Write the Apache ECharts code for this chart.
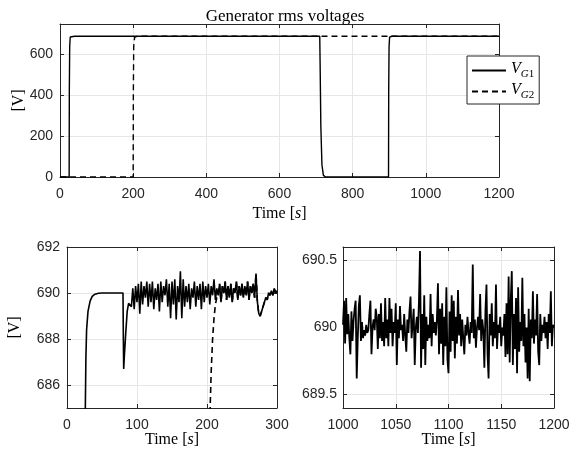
<!DOCTYPE html>
<html><head><meta charset="utf-8">
<script src="https://cdn.jsdelivr.net/npm/echarts@6/dist/echarts.min.js"></script>
<style>html,body{margin:0;padding:0;background:#fff}#c{width:580px;height:460px}</style>
</head><body><div id="c"></div>
<script>
// ---- data ----
const titleText = 'Generator rms voltages';
const seriesNames = ['V_G1', 'V_G2'];

// overview (whole run), [time s, voltage V]
const overviewVG1 = [[0,0],[25,0],[25.5,420],[26.5,640],[28,686],[32,689.5],[40,690],[710,690],[711,560],[713,250],[716,60],[720,8],[726,0],[898,0],[898.5,420],[899.5,640],[901,686],[907,690],[1200,690]];
const overviewVG2 = [[0,0],[200,0],[200.5,420],[201.5,640],[204,685],[210,689.4],[216,690],[1200,690]];

// start-up detail 0..300 s
const startVG1Smooth = [[0,0],[24.5,0],[25,650],[25.5,680],[26,684.5],[27,687.2],[28,688.4],[30,689.2],[33,689.65],[36,689.85],[40,689.95],[45,689.99],[50,690],[80,690],[80.5,688],[81,686.7],[82,687.3],[84,688.3],[86,689.2],[88,689.55],[90,689.6]];
const startNoiseT0 = 92, startNoiseStep = 2;
const startVG1Noise = [
 689.4, 690.2, 689.3, 690.3, 689.6, 690.4, 689.1, 690.5, 689.5, 690.3,
 689.8, 690.5, 689.4, 690.4, 689.6, 690.5, 689.3, 690.2, 689.7, 690.4,
 689.2, 690.5, 689.6, 690.3, 689.9, 690.6, 689.4, 690.4, 688.9, 690.5,
 689.5, 690.6, 688.85, 690.3, 689.6, 690.94, 688.9, 690.6, 689.4, 690.3,
 689.6, 690.4, 689.3, 690.2, 689.8, 690.5, 689.4, 690.3, 689.7, 690.4,
 689.3, 690.5, 689.6, 690.3, 689.8, 690.4, 689.5, 690.3, 689.9, 690.6,
 689.7, 690.2, 689.9, 690.4, 689.6, 690.3, 690.0, 690.5, 689.7, 690.3,
 689.8, 690.4, 689.6, 690.2, 690.0, 690.5, 689.7, 690.3, 689.9, 690.4,
 689.8, 690.3, 689.9, 690.5, 689.7, 690.3, 690.0, 690.4, 689.8, 690.85,
 689.6, 689.1, 689.0, 689.2, 689.4, 689.6, 689.8, 689.7, 690.0, 689.9,
 690.1, 689.9, 690.2, 690.0, 690.1
];
const startVG2Rise = [[0,0],[200,0],[200.5,420],[201.5,640],[204.5,685],[206,686.6],[208,688.0],[210,688.9],[212,689.5],[214,689.8]];

// end detail 1000..1200 s, 1 s step
const endT0 = 1000, endStep = 1;
const endVG1 = [
 690.02, 690.20, 689.88, 690.22, 689.95, 690.10, 689.92, 689.80, 690.12, 689.90,
 690.05, 690.14, 690.20, 689.62, 689.92, 690.16, 690.24, 689.90, 690.04, 689.92,
 689.98, 689.94, 690.02, 689.96, 689.98, 690.10, 690.20, 689.80, 690.00, 690.06,
 689.98, 690.14, 690.08, 689.84, 690.10, 689.92, 690.18, 689.90, 690.04, 689.86,
 690.22, 689.92, 690.06, 689.86, 690.22, 689.96, 690.14, 689.86, 690.04, 689.96,
 690.18, 689.72, 690.06, 689.92, 690.16, 689.98, 690.02, 689.90, 690.10, 689.94,
 689.82, 690.06, 689.96, 690.12, 690.23, 689.92, 690.02, 690.14, 689.72, 690.00,
 690.08, 689.96, 690.20, 690.57, 689.70, 690.10, 689.84, 690.24, 689.72, 690.08,
 689.90, 690.02, 689.92, 690.25, 689.86, 690.10, 689.96, 690.04, 689.94, 690.06,
 690.33, 689.80, 690.14, 689.88, 690.18, 689.72, 690.08, 689.86, 690.30, 689.76,
 689.66, 690.12, 689.82, 690.24, 689.90, 690.20, 689.77, 690.08, 689.88, 690.28,
 689.94, 690.10, 689.86, 690.06, 689.92, 689.80, 690.02, 689.94, 690.08, 689.96,
 689.88, 690.04, 689.96, 690.47, 689.92, 690.06, 689.85, 690.00, 690.08, 689.98,
 690.25, 689.90, 690.06, 689.98, 689.70, 690.12, 690.32, 689.80, 689.62, 690.10,
 689.94, 690.18, 689.86, 690.04, 689.92, 690.32, 689.84, 690.02, 689.96, 690.08,
 689.86, 690.00, 689.94, 690.10, 689.78, 690.18, 689.80, 690.38, 689.74, 690.20,
 690.42, 689.72, 690.10, 689.84, 690.22, 689.66, 690.30, 689.82, 690.04, 689.90,
 690.37, 689.86, 690.10, 689.74, 690.00, 689.62, 690.14, 689.60, 690.06, 689.92,
 690.27, 689.88, 690.06, 689.94, 690.25, 689.82, 689.72, 690.10, 689.90, 690.02,
 689.96, 690.08, 689.92, 690.04, 689.84, 690.10, 689.96, 690.27, 689.86, 690.02,
 690.00
];

// tick definitions
const topX = {min: 0, max: 1200, interval: 200};
const topY = {min: 0, max: 750, interval: 200};
const blX = {min: 0, max: 300, interval: 100};
const blY = {min: 685, max: 692, ticks: [686, 688, 690, 692]};
const brX = {min: 1000, max: 1200, interval: 50};
const brY = {min: 689.4, max: 690.6, ticks: [689.5, 690, 690.5]};

// ---- build series data from arrays ----
const startVG1 = startVG1Smooth.concat(startVG1Noise.map((v, i) => [startNoiseT0 + i * startNoiseStep, v]));
const startVG2 = startVG2Rise.concat(startVG1.filter(p => p[0] > 214));
const endData = endVG1.map((v, i) => [endT0 + i * endStep, v]);

// ---- styling ----
const AX = '#262626', GRIDC = '#e6e6e6';
const SANS = 'Liberation Sans', SERIF = 'Liberation Serif';
const nameRich = {
  r: {fontFamily: SERIF, fontSize: 16, color: '#000'},
  i: {fontFamily: SERIF, fontSize: 16, fontStyle: 'italic', color: '#000'}
};
const plainNum = v => String(+Number(v).toFixed(3));
function mkAxis(kind, def, grid, opts) {
  const primary = opts.primary;
  const a = {
    type: 'value', gridIndex: grid, min: def.min, max: def.max,
    position: opts.position,
    axisLine: {show: true, onZero: false, lineStyle: {color: AX, width: 1}},
    axisTick: {show: true, inside: true, length: 4, lineStyle: {color: AX}},
    axisLabel: {show: primary, color: AX, fontFamily: SANS, fontSize: 14, margin: opts.margin || 8,
      formatter: plainNum, showMaxLabel: true},
    splitLine: {show: primary, lineStyle: {color: GRIDC, width: 1}}
  };
  if (def.interval) a.interval = def.interval;
  if (def.ticks) {
    a.axisTick.customValues = def.ticks;
    a.axisLabel.customValues = def.ticks;
  }
  if (primary && opts.name) {
    a.name = opts.name; a.nameLocation = 'middle'; a.nameGap = opts.nameGap;
    a.nameMoveOverlap = false;
    a.nameTextStyle = {fontFamily: SERIF, fontSize: 16, color: '#000', rich: nameRich};
  }
  return a;
}
const timeName = '{r|Time [}{i|s}{r|]}';
const vName = '{r|[V]}';

const xAxes = [
  mkAxis('x', topX, 0, {primary: true, position: 'bottom', name: timeName, nameGap: 29, margin: 10}),
  mkAxis('x', topX, 0, {primary: false, position: 'top'}),
  mkAxis('x', blX, 1, {primary: true, position: 'bottom', name: timeName, nameGap: 24, margin: 10}),
  mkAxis('x', blX, 1, {primary: false, position: 'top'}),
  mkAxis('x', brX, 2, {primary: true, position: 'bottom', name: timeName, nameGap: 24, margin: 10}),
  mkAxis('x', brX, 2, {primary: false, position: 'top'})
];
const yAxes = [
  mkAxis('y', topY, 0, {primary: true, position: 'left', name: vName, nameGap: 33, margin: 7}),
  mkAxis('y', topY, 0, {primary: false, position: 'right'}),
  mkAxis('y', blY, 1, {primary: true, position: 'left', name: vName, nameGap: 44, margin: 7}),
  mkAxis('y', blY, 1, {primary: false, position: 'right'}),
  mkAxis('y', brY, 2, {primary: true, position: 'left', margin: 6}),
  mkAxis('y', brY, 2, {primary: false, position: 'right'})
];
yAxes[0].axisLabel.showMaxLabel = false;

function line(name, data, xi, yi, dashed, w, z) {
  return {
    type: 'line', name: name, data: data, xAxisIndex: xi, yAxisIndex: yi,
    showSymbol: false, symbol: 'none', clip: true, z: z,
    lineStyle: {color: '#000', width: w, type: dashed ? [6, 4] : 'solid'},
    itemStyle: {color: '#000'}
  };
}

const legendRich = {
  v: {fontFamily: SERIF, fontStyle: 'italic', fontSize: 16, color: '#000', padding: [0, 0, 3, 0], verticalAlign: 'bottom'},
  s: {fontFamily: SERIF, fontStyle: 'italic', fontSize: 11, color: '#000', verticalAlign: 'bottom'},
  n: {fontFamily: SERIF, fontSize: 11, color: '#000', verticalAlign: 'bottom'}
};

const gridBase = {containLabel: false, outerBoundsMode: 'none'};
const option = {
  animation: false,
  backgroundColor: '#fff',
  title: {text: titleText, left: 280, top: 3, textAlign: 'center',
    textStyle: {fontFamily: SERIF, fontWeight: 'normal', fontSize: 17, color: '#000'}},
  grid: [
    Object.assign({left: 60, top: 24, width: 439, height: 153}, gridBase),
    Object.assign({left: 67, top: 247, width: 210, height: 161}, gridBase),
    Object.assign({left: 343, top: 247, width: 211, height: 161}, gridBase)
  ],
  legend: {
    data: seriesNames, orient: 'vertical', left: 467, top: 56,
    itemWidth: 34, itemHeight: 14, itemGap: 2,
    padding: [5, 5, 3, 4],
    borderColor: AX, borderWidth: 1, backgroundColor: '#fff',
    itemStyle: {opacity: 0},
    formatter: n => n === 'V_G1' ? '{v|V}{s|G}{n|1}' : '{v|V}{s|G}{n|2}',
    textStyle: {rich: legendRich},
    z: 10
  },
  xAxis: xAxes,
  yAxis: yAxes,
  series: [
    line('V_G1', overviewVG1, 0, 0, false, 1.4, 3),
    line('V_G2', overviewVG2, 0, 0, true, 1.4, 2),
    line('V_G2', startVG2, 2, 2, true, 1.6, 2),
    line('V_G1', startVG1, 2, 2, false, 1.6, 3),
    line('V_G1', endData, 4, 4, false, 1.8, 3)
  ]
};
const chart = echarts.init(document.getElementById('c'), null, {renderer: 'canvas'});
chart.setOption(option);
</script>
</body></html>
